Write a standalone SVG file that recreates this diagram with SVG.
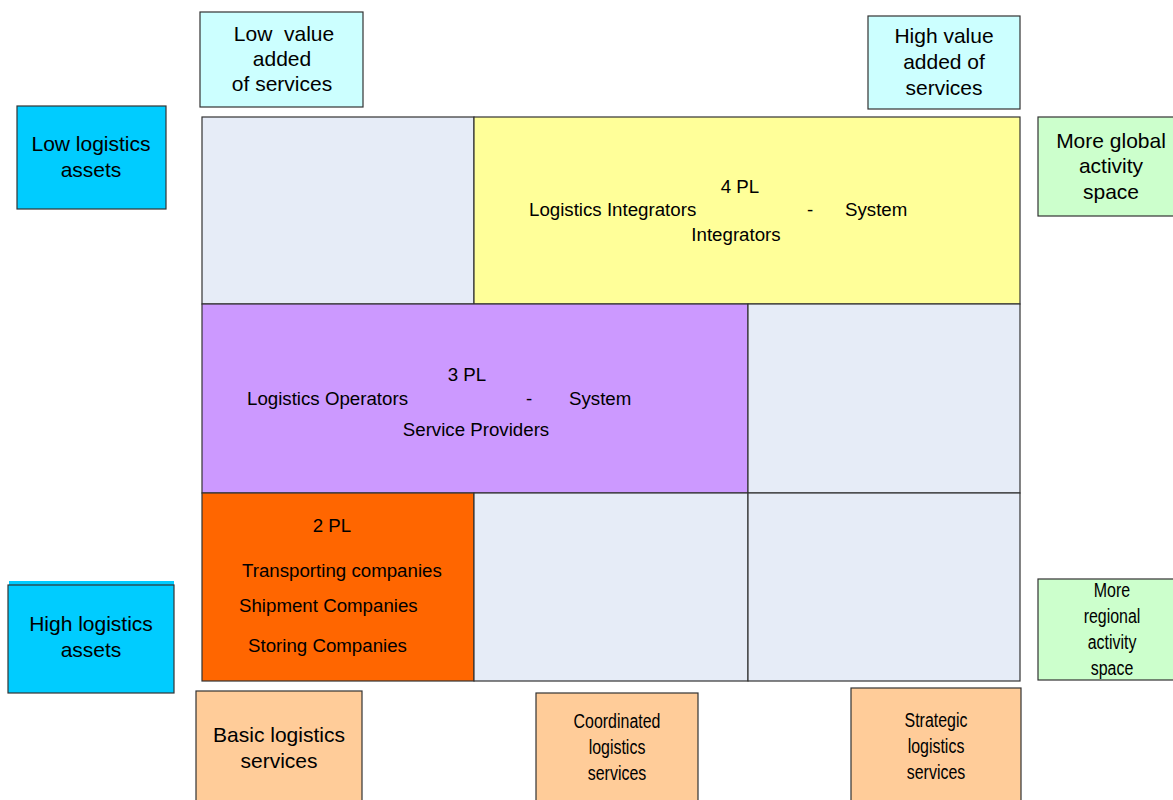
<svg xmlns="http://www.w3.org/2000/svg" width="1173" height="800" viewBox="0 0 1173 800">
<style>
.b{stroke:#333;stroke-width:1.2}
.t{font-family:"Liberation Sans",Arial,sans-serif;fill:#000;text-anchor:middle;white-space:pre}
.o{font-size:21px}
.c{font-size:18.7px}
.s{font-size:18.7px;text-anchor:start}
</style>
<rect width="1173" height="800" fill="#fff"/>
<g id="grid">
<g id="cell-tl"><rect class="b" x="202" y="117" width="272" height="187" fill="#e6ecf7"/></g>
<g id="cell-4pl"><rect class="b" x="474" y="117" width="546" height="187" fill="#ffff99"/>
<text class="t c" x="740" y="193">4 PL</text>
<text class="t s" x="529" y="216">Logistics Integrators</text>
<text class="t s" x="807" y="216">-</text>
<text class="t s" x="845" y="216">System</text>
<text class="t c" x="736" y="241">Integrators</text></g>
<g id="cell-3pl"><rect class="b" x="202" y="304" width="546" height="189" fill="#cc99ff"/>
<text class="t c" x="467" y="381">3 PL</text>
<text class="t s" x="247" y="405">Logistics Operators</text>
<text class="t s" x="526" y="405">-</text>
<text class="t s" x="569" y="405">System</text>
<text class="t c" x="476" y="436">Service Providers</text></g>
<g id="cell-mr"><rect class="b" x="748" y="304" width="272" height="189" fill="#e6ecf7"/></g>
<g id="cell-2pl"><rect class="b" x="202" y="493" width="272" height="188" fill="#ff6600"/>
<text class="t c" x="332" y="532">2 PL</text>
<text class="t s" x="242" y="577">Transporting companies</text>
<text class="t s" x="239" y="612">Shipment Companies</text>
<text class="t s" x="248" y="652">Storing Companies</text></g>
<g id="cell-bm"><rect class="b" x="474" y="493" width="274" height="188" fill="#e6ecf7"/></g>
<g id="cell-br"><rect class="b" x="748" y="493" width="272" height="188" fill="#e6ecf7"/></g>
</g>
<g id="low-value"><rect class="b" x="200" y="12" width="163" height="95" fill="#ccffff"/>
<text class="t o" x="284" y="41">Low  value</text>
<text class="t o" x="282" y="66">added</text>
<text class="t o" x="282" y="91">of services</text></g>
<g id="high-value"><rect class="b" x="868" y="16" width="152" height="93" fill="#ccffff"/>
<text class="t o" x="944" y="43">High value</text>
<text class="t o" x="944" y="69">added of</text>
<text class="t o" x="944" y="95">services</text></g>
<g id="low-assets"><rect class="b" x="17" y="106" width="149" height="103" fill="#00ccff"/>
<text class="t o" x="91" y="151">Low logistics</text>
<text class="t o" x="91" y="177">assets</text></g>
<g id="global"><rect class="b" x="1038" y="117" width="140" height="99" fill="#ccffcc"/>
<text class="t o" x="1111" y="148">More global</text>
<text class="t o" x="1111" y="173">activity</text>
<text class="t o" x="1111" y="199">space</text></g>
<g id="high-assets"><rect x="9" y="581" width="165" height="5" fill="#00ccff"/>
<rect class="b" x="8" y="585" width="166" height="108" fill="#00ccff"/>
<text class="t o" x="91" y="631">High logistics</text>
<text class="t o" x="91" y="657">assets</text></g>
<g id="regional"><rect class="b" x="1038" y="579" width="140" height="101" fill="#ccffcc"/>
<g transform="translate(1112 0) scale(0.76 1)">
<text class="t o" x="0" y="597">More</text>
<text class="t o" x="0" y="623">regional</text>
<text class="t o" x="0" y="649">activity</text>
<text class="t o" x="0" y="675">space</text></g></g>
<g id="basic"><rect class="b" x="196" y="691" width="166" height="115" fill="#ffcc99"/>
<text class="t o" x="279" y="742">Basic logistics</text>
<text class="t o" x="279" y="768">services</text></g>
<g id="coordinated"><rect class="b" x="536" y="693" width="162" height="113" fill="#ffcc99"/>
<g transform="translate(617 0) scale(0.76 1)">
<text class="t o" x="0" y="728">Coordinated</text>
<text class="t o" x="0" y="754">logistics</text>
<text class="t o" x="0" y="780">services</text></g></g>
<g id="strategic"><rect class="b" x="851" y="688" width="170" height="118" fill="#ffcc99"/>
<g transform="translate(936 0) scale(0.76 1)">
<text class="t o" x="0" y="727">Strategic</text>
<text class="t o" x="0" y="753">logistics</text>
<text class="t o" x="0" y="779">services</text></g></g>
<g id="connectors"></g>
</svg>
